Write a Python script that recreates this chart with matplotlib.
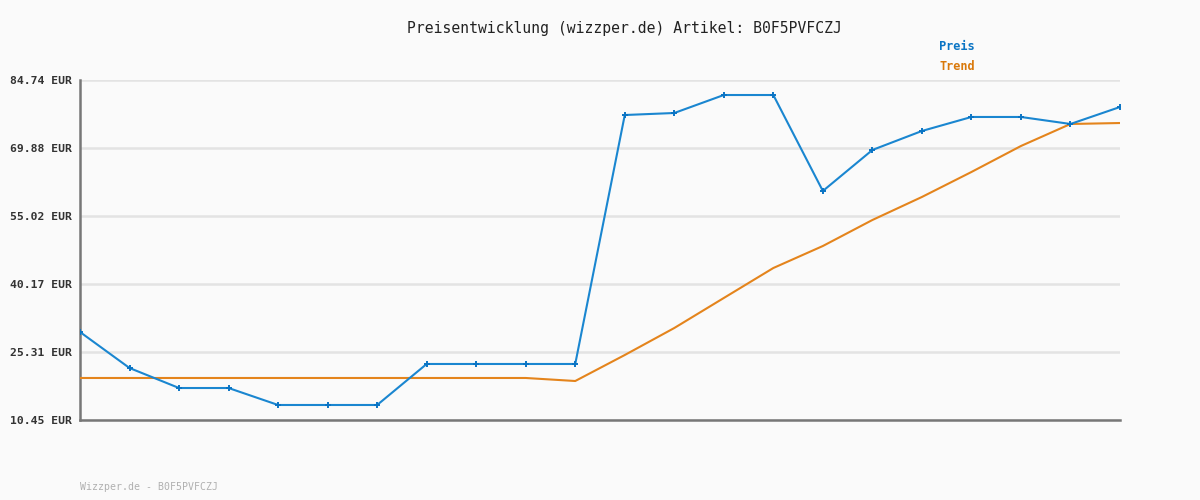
import numpy as np
import matplotlib
matplotlib.use('Agg')
import matplotlib.pyplot as plt

# Daten
preis = [29.68, 21.81, 17.44, 17.44, 13.73, 13.73, 13.73, 22.69, 22.69, 22.69, 22.69,
         77.09, 77.53, 81.46, 81.46, 60.49, 69.45, 73.60, 76.66, 76.66, 75.13, 78.84]
trend = [19.63, 19.63, 19.63, 19.63, 19.63, 19.63, 19.63, 19.63, 19.63, 19.63, 18.97,
         24.65, 30.55, 37.11, 43.66, 48.47, 54.15, 59.18, 64.64, 70.32, 75.13, 75.34]
y_ticks = [10.45, 25.31, 40.17, 55.02, 69.88, 84.74]
y_labels = ['10.45 EUR', '25.31 EUR', '40.17 EUR', '55.02 EUR', '69.88 EUR', '84.74 EUR']
artikel = 'B0F5PVFCZJ'

mono = 'DejaVu Sans Mono'
blau = '#1a86d0'
orange = '#e4841c'

fig = plt.figure(figsize=(12, 5), dpi=100, facecolor='#fafafa')
ax = fig.add_axes([80 / 1200, 80 / 500, 1040 / 1200, 340 / 500])
ax.set_facecolor('#fafafa')

x = np.arange(len(preis))
ax.plot(x, trend, color=orange, lw=1.5, zorder=3)
ax.plot(x, preis, color=blau, lw=1.5, marker='+', markersize=4, mew=1.4,
        markeredgecolor='#0a74c4', zorder=4)

ax.set_xlim(0, len(preis) - 1)
ax.set_ylim(y_ticks[0], y_ticks[-1])
ax.set_yticks(y_ticks)
ax.set_yticklabels(y_labels, family=mono, fontsize=8.2, fontweight='bold', color='#333333')
ax.set_xticks([])
ax.tick_params(axis='y', length=0, pad=6)
ax.grid(axis='y', color='#e3e3e3', lw=1.8)
ax.set_axisbelow(True)

for s in ['top', 'right']:
    ax.spines[s].set_visible(False)
for s in ['left', 'bottom']:
    ax.spines[s].set_color('#777777')
    ax.spines[s].set_linewidth(1.8)

fig.text(624 / 1200, 1 - 28 / 500, f'Preisentwicklung (wizzper.de) Artikel: {artikel}',
         ha='center', va='center', family=mono, fontsize=10.6, color='#222222')
fig.text(939 / 1200, 1 - 47 / 500, 'Preis', ha='left', va='center', family=mono,
         fontsize=8.6, fontweight='bold', color='#0a74c4')
fig.text(939 / 1200, 1 - 67 / 500, 'Trend', ha='left', va='center', family=mono,
         fontsize=8.6, fontweight='bold', color='#d9780a')
fig.text(80 / 1200, 1 - 487 / 500, f'Wizzper.de - {artikel}', ha='left', va='center',
         family=mono, fontsize=7.1, color='#b0b0b0')

fig.savefig('out.png', dpi=100, facecolor=fig.get_facecolor())
